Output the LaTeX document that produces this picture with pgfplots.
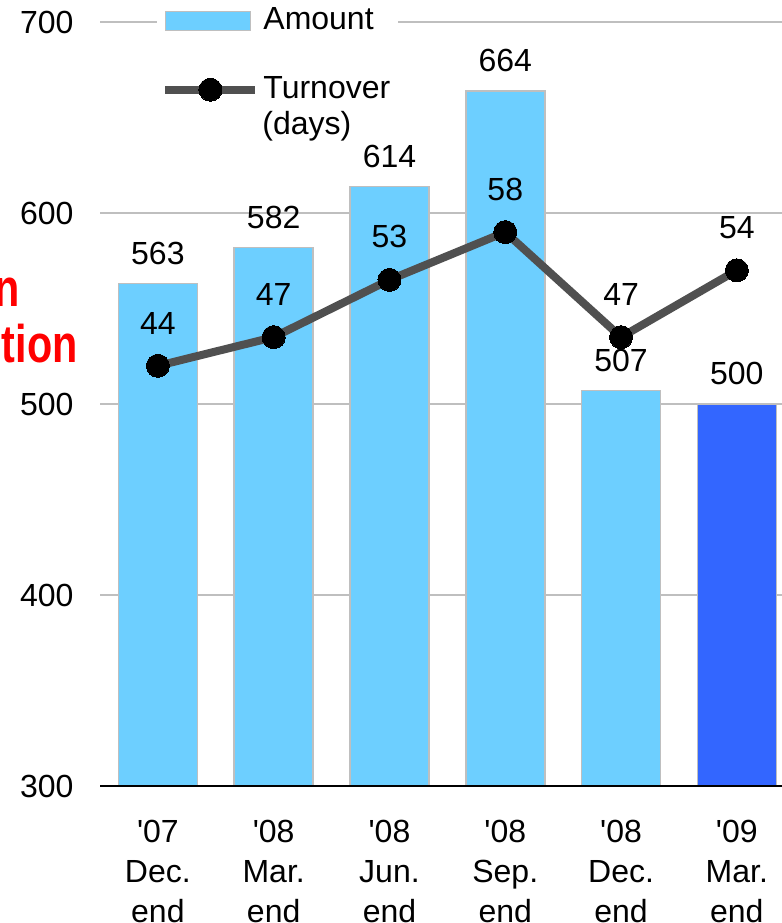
\documentclass[border=0pt]{standalone}
\usepackage{pgfplots}
\pgfplotsset{compat=1.18}
\usepackage{fontspec}
\setmainfont{Liberation Sans}
\newfontfamily\redfont[FakeStretch=0.78]{Liberation Sans}
\definecolor{barblue}{RGB}{109,207,255}
\definecolor{darkblue}{RGB}{51,102,255}
\definecolor{bordergray}{RGB}{191,191,191}
\definecolor{gridgray}{RGB}{191,191,191}
\definecolor{linegray}{RGB}{80,80,80}
\pgfplotsset{
  turnoverlegend/.style={legend image code/.code={\draw[mark repeat=2, mark phase=2, ##1] plot coordinates {(0pt,0pt) (22.5pt,0pt) (45pt,0pt)};}},
  myaxis/.style={
    scale only axis, width=341pt, height=382pt,
    at={(50pt,68.5pt)}, anchor=south west,
    xmin=-0.5, xmax=5.39,
    /pgf/number format/assume math mode=true,
    tick label style={font=\fontsize{16}{20}\selectfont},
  }
}
\begin{document}
\fontsize{16}{19.5}\selectfont
\begin{tikzpicture}
\begin{axis}[myaxis,
  ymin=300, ymax=700,
  ytick={300,400,...,700},
  ymajorgrids, grid style={gridgray, line width=0.75pt},
  axis x line*=bottom, axis y line*=left,
  x axis line style={draw=none},
  y axis line style={draw=none},
  xtick={0,...,5},
  xticklabels={{\textquotesingle07\\Dec.\\end},{\textquotesingle08\\Mar.\\end},{\textquotesingle08\\Jun.\\end},{\textquotesingle08\\Sep.\\end},{\textquotesingle08\\Dec.\\end},{\textquotesingle09\\Mar.\\end}},
  xticklabel style={align=center, yshift=-11.7pt},
  yticklabel style={xshift=-7.7pt},
  major tick length=0pt,
  ybar, bar width=39.5pt, bar shift=0pt,
  nodes near coords,
  every node near coord/.append style={inner sep=0pt, yshift=9pt, text=black, font=\fontsize{16}{20}\selectfont},
]
\addplot[fill=barblue, draw=bordergray, line width=0.75pt] coordinates {(0,563) (1,582) (2,614) (3,664) (4,507)};
\addplot[fill=darkblue, draw=bordergray, line width=0.75pt] coordinates {(5,500)};
\end{axis}
\begin{axis}[myaxis,
  ymin=0, ymax=80,
  axis x line*=bottom, hide y axis,
  x axis line style={-, black, line width=0.75pt},
  xtick=\empty,
  minor xtick={-0.5,0.5,...,4.5},
  minor x tick style={black, line width=0.75pt},
  minor tick length=5pt, tick align=inside,
  legend style={at={(0.0836,1.03)}, anchor=north west, draw=none, fill=white,
    font=\fontsize{16}{19.5}\selectfont, row sep=17pt, inner xsep=2pt, inner ysep=2pt},
  legend cell align=left,
]
\addlegendimage{legend image code/.code={\draw[fill=barblue, draw=bordergray, line width=0.75pt] (0pt,-4.75pt) rectangle (42.5pt,4.75pt);}}
\addlegendentry{Amount}
\addplot[linegray, line width=4pt, mark=*, mark size=5.75pt,
  mark options={black, fill=black, line width=0pt},
  nodes near coords,
  every node near coord/.append style={inner sep=0pt, yshift=15.8pt, text=black, font=\fontsize{16}{20}\selectfont},
  turnoverlegend
  ] coordinates {(0,44) (1,47) (2,53) (3,58) (4,47) (5,54)};
\addlegendentry{Turnover}
\end{axis}
\node[anchor=base west, inner sep=0pt, font=\fontsize{16}{20}\selectfont] at (131pt,394pt) {(days)};
\node[anchor=base east, inner sep=0pt, text=red, font=\redfont\bfseries\fontsize{26.5}{30}\selectfont] at (10pt,308pt) {n};
\node[anchor=base east, inner sep=0pt, text=red, font=\redfont\bfseries\fontsize{26.5}{30}\selectfont] at (39pt,280pt) {tion};
\pgfresetboundingbox
\useasboundingbox (0pt,0pt) rectangle (391pt,461.5pt);
\end{tikzpicture}
\end{document}
